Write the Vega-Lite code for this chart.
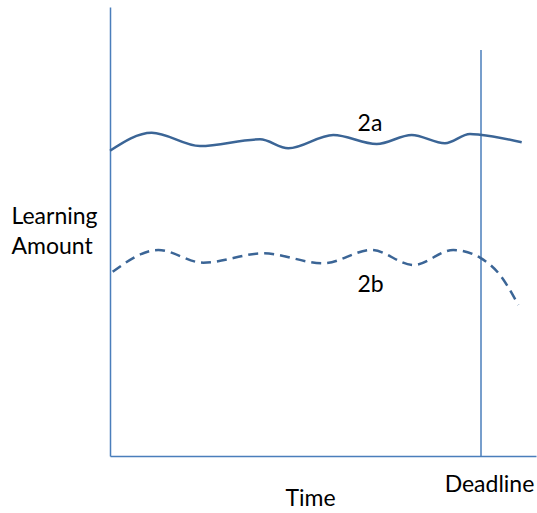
{
  "$schema": "https://vega.github.io/schema/vega-lite/v6.json",
  "autosize": {"type": "none"},
  "width": 426,
  "height": 449,
  "padding": {"left": 110, "top": 7, "right": 1, "bottom": 57},
  "background": "white",
  "config": {"view": {"stroke": null}, "font": "Lato"},
  "datasets": {
    "curves": [
      {"series": "2a", "t": 0, "amount": 305.3},
      {"series": "2a", "t": 41.7, "amount": 323.3},
      {"series": "2a", "t": 90, "amount": 310},
      {"series": "2a", "t": 150, "amount": 316.7},
      {"series": "2a", "t": 178.3, "amount": 307.7},
      {"series": "2a", "t": 223.3, "amount": 321},
      {"series": "2a", "t": 266.7, "amount": 312},
      {"series": "2a", "t": 301.7, "amount": 321},
      {"series": "2a", "t": 335, "amount": 312.7},
      {"series": "2a", "t": 360, "amount": 322},
      {"series": "2a", "t": 370, "amount": 321.3},
      {"series": "2a", "t": 411.7, "amount": 313.7},
      {"series": "2b", "t": 2.7, "amount": 184.3},
      {"series": "2b", "t": 48.3, "amount": 206},
      {"series": "2b", "t": 93.3, "amount": 193.3},
      {"series": "2b", "t": 153.3, "amount": 202.7},
      {"series": "2b", "t": 213.3, "amount": 192.7},
      {"series": "2b", "t": 261.7, "amount": 206},
      {"series": "2b", "t": 303.3, "amount": 191},
      {"series": "2b", "t": 343.3, "amount": 206},
      {"series": "2b", "t": 370, "amount": 198.3},
      {"series": "2b", "t": 390, "amount": 181},
      {"series": "2b", "t": 408.3, "amount": 151}
    ],
    "deadline": [{"t": 371, "low": 0, "high": 406}],
    "labels": [
      {"label": "2a", "t": 260, "amount": 325.3},
      {"label": "2b", "t": 260.5, "amount": 164.3}
    ]
  },
  "layer": [
    {
      "data": {"name": "deadline"},
      "mark": {"type": "rule", "color": "#4a7ebb", "strokeWidth": 1.5},
      "encoding": {
        "x": {"field": "t", "type": "quantitative", "scale": {"domain": [0, 426], "nice": false, "zero": false},
          "axis": {"domain": true, "domainColor": "#4a7ebb", "domainWidth": 1.5, "grid": false, "ticks": false, "tickSize": 0,
            "values": [371], "labelExpr": "'Deadline'", "labelFontSize": 23, "labelColor": "black", "labelBaseline": "alphabetic",
            "labelPadding": 35, "labelOffset": 8, "labelAlign": "center",
            "title": "Time", "titleFontSize": 23, "titleFontWeight": "normal", "titleColor": "black",
            "titleX": 200, "titleY": 49, "titleBaseline": "alphabetic", "titleAlign": "center"}},
        "y": {"field": "low", "type": "quantitative", "scale": {"domain": [0, 449], "nice": false, "zero": false},
          "axis": {"domain": true, "domainColor": "#4a7ebb", "domainWidth": 1.5, "grid": false, "ticks": false, "tickSize": 0,
            "labels": false, "title": ["Learning", "Amount"], "titleAngle": 0, "titleAlign": "left", "titleBaseline": "alphabetic",
            "titleX": -99, "titleY": 216.3, "titleLineHeight": 30.7, "titleFontSize": 23, "titleFontWeight": "normal", "titleColor": "black"}},
        "y2": {"field": "high"}
      }
    },
    {
      "data": {"name": "curves"},
      "transform": [{"filter": "datum.series === '2a'"}],
      "mark": {"type": "line", "color": "#3b6596", "strokeWidth": 2.5, "interpolate": "monotone"},
      "encoding": {
        "x": {"field": "t", "type": "quantitative"},
        "y": {"field": "amount", "type": "quantitative"}
      }
    },
    {
      "data": {"name": "curves"},
      "transform": [{"filter": "datum.series === '2b'"}],
      "mark": {"type": "line", "color": "#3b6596", "strokeWidth": 2.5, "interpolate": "monotone", "strokeDash": [10, 6]},
      "encoding": {
        "x": {"field": "t", "type": "quantitative"},
        "y": {"field": "amount", "type": "quantitative"}
      }
    },
    {
      "data": {"name": "labels"},
      "mark": {"type": "text", "fontSize": 23, "baseline": "alphabetic", "align": "center", "color": "black"},
      "encoding": {
        "x": {"field": "t", "type": "quantitative"},
        "y": {"field": "amount", "type": "quantitative"},
        "text": {"field": "label"}
      }
    }
  ]
}
